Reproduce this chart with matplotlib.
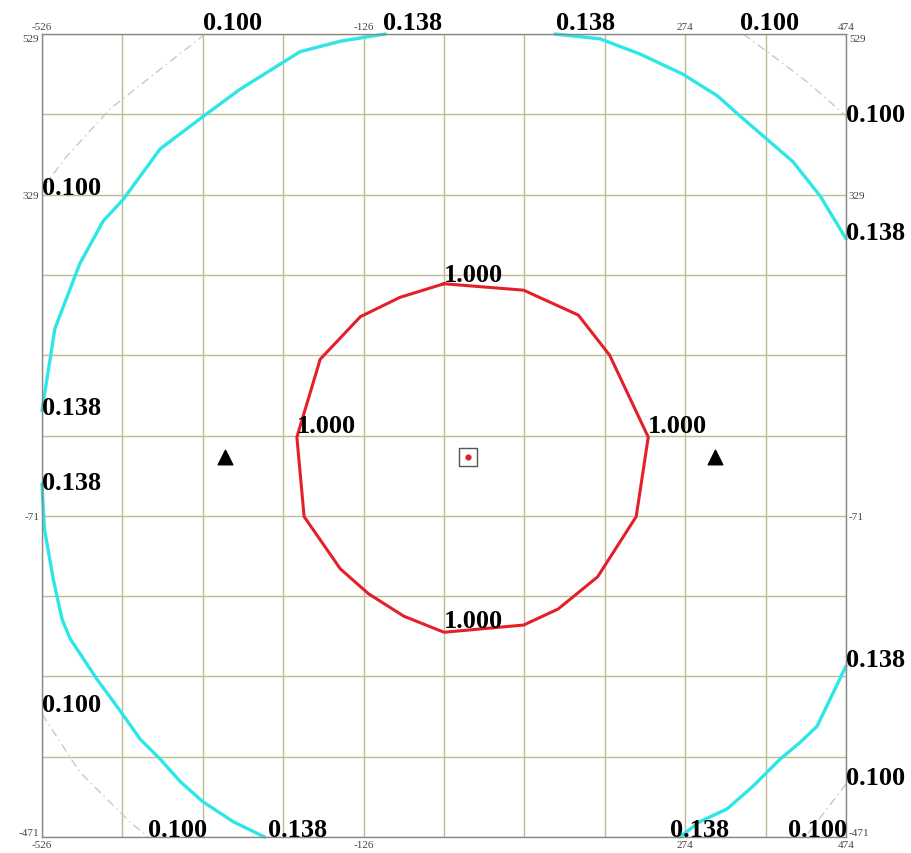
import numpy as np
import matplotlib
matplotlib.use('Agg')
import matplotlib.pyplot as plt

plt.rcParams['axes.unicode_minus'] = False

# contour 1.000 (red, closed)
red_x = [-26, 73, 141, 180, 228, 213, 165, 116, 73, -26, -76, -120, -155, -200, -209, -180, -130, -81, -26]
red_y = [218, 210, 179, 129, 27, -72, -147, -187, -207, -216, -196, -168, -137, -72, 27, 124, 177, 201, 218]

# contour 0.138 (cyan), four pieces
cyan_tl_x = [-526, -510, -479, -450, -425, -379, -326, -280, -205, -155, -99]
cyan_tl_y = [60, 162, 243, 296, 323, 386, 426, 460, 507, 520, 529]
cyan_tr_x = [112, 168, 218, 271, 314, 342, 408, 442, 474]
cyan_tr_y = [529, 523, 504, 479, 452, 427, 370, 327, 274]
cyan_bl_x = [-526, -523, -512, -501, -491, -458, -433, -404, -379, -354, -326, -288, -249]
cyan_bl_y = [-31, -87, -150, -200, -224, -274, -308, -349, -374, -402, -427, -452, -471]
cyan_br_x = [474, 438, 417, 392, 358, 326, 292, 267]
cyan_br_y = [-258, -333, -353, -374, -408, -436, -452, -471]

# contour 0.100 (grey dashed), corner pieces
grey_tl_x = [-323, -379, -441, -495, -526]
grey_tl_y = [529, 485, 436, 377, 336]
grey_tr_x = [346, 388, 426, 474]
grey_tr_y = [529, 498, 469, 427]
grey_bl_x = [-526, -479, -417, -394]
grey_bl_y = [-318, -390, -452, -471]
grey_br_x = [474, 448, 423]
grey_br_y = [-405, -439, -471]

# contour labels
lab_x = [-326, -102, 113, 342, 474, 474, -526, -526, -526, -526, -394, -245, 255, 402, 474, 474,
         -26, -209, 228, -26]
lab_y = [529, 529, 529, 529, 414, 268, 324, 50, -44, -320, -476, -476, -476, -476, -264, -411,
         215, 27, 27, -216]
lab_txt = ['0.100', '0.138', '0.138', '0.100', '0.100', '0.138', '0.100', '0.138', '0.138', '0.100',
           '0.100', '0.138', '0.138', '0.100', '0.138', '0.100',
           '1.000', '1.000', '1.000', '1.000']

# markers
tri_x = [-298, 311]
tri_y = [2, 2]
centre_x = [4]
centre_y = [2]

xmin, xmax = -526, 474
ymin, ymax = -471, 529
xtick_vals = [-526, -126, 274, 474]
ytick_vals = [529, 329, -71, -471]

fig = plt.figure(figsize=(9.11, 8.54), dpi=100)
ax = fig.add_axes([0.0461, 0.0187, 0.8826, 0.9403])

ax.set_xlim(xmin, xmax)
ax.set_ylim(ymin, ymax)
ax.set_xticks(xtick_vals)
ax.set_yticks(ytick_vals)
ax.set_xticks(np.arange(xmin, xmax + 1, 100), minor=True)
ax.set_yticks(np.arange(ymin, ymax + 1, 100), minor=True)
ax.grid(True, which='both', color='#bcbc90', linewidth=1.0)
ax.set_axisbelow(True)
ax.tick_params(which='both', length=0, labeltop=True, labelright=True, pad=2,
               labelsize=8, labelcolor='#444444')
for lab in ax.get_xticklabels() + ax.get_yticklabels():
    lab.set_family('Liberation Serif')
# keep the corner labels apart
for t in ax.yaxis.get_major_ticks():
    if t.label1.get_text() == '-471':
        t.label1.set_verticalalignment('bottom')
        t.label2.set_verticalalignment('bottom')
    if t.label1.get_text() == '529':
        t.label1.set_verticalalignment('top')
        t.label2.set_verticalalignment('top')
for sp in ax.spines.values():
    sp.set_color('#888888')
    sp.set_linewidth(1.0)

cyan = '#2ee6e6'
for xs, ys in [(cyan_tl_x, cyan_tl_y), (cyan_tr_x, cyan_tr_y),
               (cyan_bl_x, cyan_bl_y), (cyan_br_x, cyan_br_y)]:
    ax.plot(xs, ys, color=cyan, linewidth=2.4, clip_on=False, solid_capstyle='round')

for xs, ys in [(grey_tl_x, grey_tl_y), (grey_tr_x, grey_tr_y),
               (grey_bl_x, grey_bl_y), (grey_br_x, grey_br_y)]:
    ax.plot(xs, ys, color='#c8c8c8', linewidth=1.0, linestyle=(0, (6, 3, 1, 3)))

ax.plot(red_x, red_y, color='#e3202a', linewidth=2.2)

ax.scatter(tri_x, tri_y, marker='^', s=110, color='black', zorder=5)
ax.scatter(centre_x, centre_y, marker='s', s=170, facecolor='none', edgecolor='#555555',
           linewidth=1.0, zorder=5)
ax.scatter(centre_x, centre_y, marker='o', s=12, color='#e3202a', zorder=6)

for x, y, t in zip(lab_x, lab_y, lab_txt):
    ax.text(x, y, t, ha='left', va='bottom', fontsize=19, fontweight='bold',
            family='Liberation Serif', color='black', clip_on=False)

fig.savefig('out.png', dpi=100)
